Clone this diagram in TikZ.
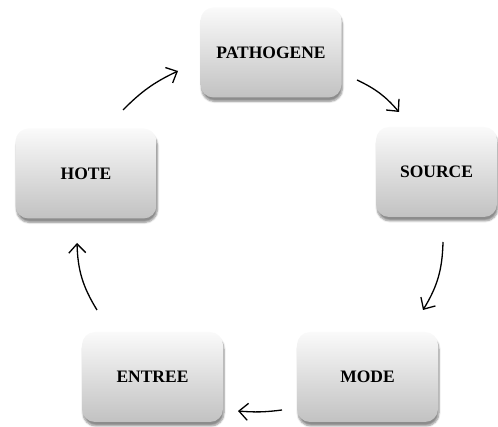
\documentclass[tikz,border=0pt]{standalone}
\usepackage{fontspec}
\setmainfont{Liberation Serif}
\usetikzlibrary{arrows.meta,shadows.blur}

\begin{document}
\begin{tikzpicture}[x=1pt,y=1pt]
		% Define a style for the shaded boxes and for the cycle arrows
		\tikzset{
			stage/.style={
				rounded corners=13pt,
				top color=black!2, bottom color=black!24,
				minimum width=141pt, minimum height=90pt,
				blur shadow={shadow xshift=1pt, shadow yshift=-4pt, shadow blur steps=6, shadow opacity=45},
				font=\fontsize{17.5}{20}\selectfont\bfseries
			},
			cycle arrow/.style={
				line width=1.3pt,
				-{Straight Barb[length=9pt,width=17pt,line width=1.3pt]}
			}
		}
		
		% Fix the size of the picture
		\useasboundingbox (0,0) rectangle (498,427);
		
		% Draw the five boxes
		\node[stage] (pathogene) at (271,374.5) {PATHOGENE};
		\node[stage, minimum width=121pt] (source) at (436.5,255) {SOURCE};
		\node[stage] (mode) at (367.5,50) {MODE};
		\node[stage] (entree) at (152.5,50) {ENTREE};
		\node[stage] (hote) at (86,253.5) {HOTE};
		
		% End points of the arrows
		\coordinate (ps) at (357,347); \coordinate (pe) at (399,315);
		\coordinate (ss) at (443,185); \coordinate (se) at (423,117);
		\coordinate (ms) at (282,17);  \coordinate (me) at (238,16);
		\coordinate (es) at (97,117);  \coordinate (ee) at (77,184);
		\coordinate (hs) at (123,317); \coordinate (he) at (178,356);
		
		% Draw the arrows of the cycle
		\draw[cycle arrow] (ps) to[bend left=12] (pe);
		\draw[cycle arrow] (ss) to[bend left=15] (se);
		\draw[cycle arrow] (ms) to[bend left=6] (me);
		\draw[cycle arrow] (es) to[bend left=15] (ee);
		\draw[cycle arrow] (hs) to[bend left=10] (he);
	\end{tikzpicture}
\end{document}
